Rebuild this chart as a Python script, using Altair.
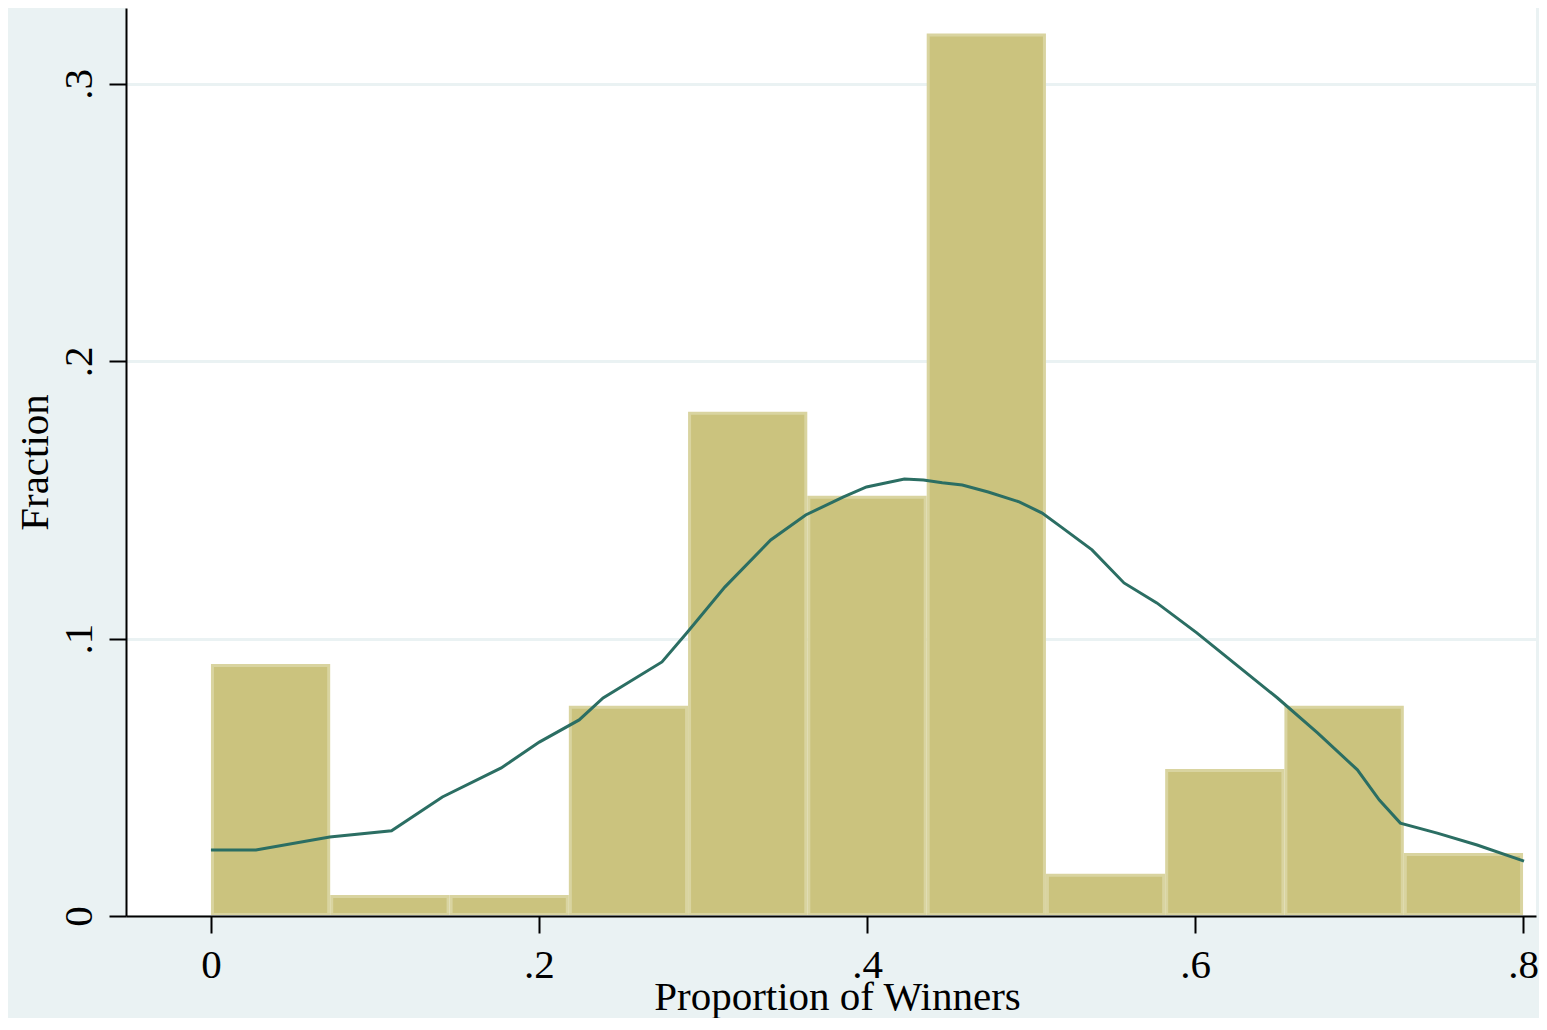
import altair as alt
import pandas as pd

# Histogram bins (Proportion of Winners) and fractions
bin_start = [0.0, 0.0727, 0.1455, 0.2182, 0.2909, 0.3636, 0.4364, 0.5091, 0.5818, 0.6545, 0.7273]
bin_end = [0.0727, 0.1455, 0.2182, 0.2909, 0.3636, 0.4364, 0.5091, 0.5818, 0.6545, 0.7273, 0.8]
fraction = [0.0909, 0.0076, 0.0076, 0.0758, 0.1818, 0.1515, 0.3182, 0.0152, 0.0530, 0.0758, 0.0227]

# Kernel density curve (scaled to fraction units)
kd_x = [0.000, 0.0274, 0.0724, 0.1101, 0.1411, 0.1770, 0.2002, 0.2245, 0.2391, 0.2750,
        0.2902, 0.3133, 0.3413, 0.3626, 0.3857, 0.3997, 0.4228, 0.4344, 0.4459, 0.4581,
        0.4739, 0.4928, 0.5068, 0.5183, 0.5372, 0.5567, 0.5767, 0.6011, 0.6260, 0.6503,
        0.6747, 0.6990, 0.7124, 0.7252, 0.7477, 0.7720, 0.8006]
kd_y = [0.0238, 0.0238, 0.0285, 0.0307, 0.0429, 0.0534, 0.0627, 0.0707, 0.0786, 0.0916,
        0.1021, 0.1186, 0.1356, 0.1446, 0.1511, 0.1547, 0.1576, 0.1572, 0.1562, 0.1554,
        0.1529, 0.1493, 0.1453, 0.1403, 0.1320, 0.1201, 0.1129, 0.1021, 0.0902, 0.0786,
        0.0660, 0.0527, 0.0418, 0.0335, 0.0299, 0.0256, 0.0198]

x_ticks = [0, 0.2, 0.4, 0.6, 0.8]
y_ticks = [0, 0.1, 0.2, 0.3]

bars = pd.DataFrame({"start": bin_start, "end": bin_end, "frac": fraction})
kd = pd.DataFrame({"x": kd_x, "y": kd_y})

FONT = "Liberation Serif"
W, H = 1410, 908

xscale = alt.Scale(domain=[-0.0518, 0.8079], nice=False, zero=False)
yscale = alt.Scale(domain=[0, 0.3274], nice=False, zero=False)

xaxis = alt.Axis(
    values=x_ticks, labelExpr="datum.value == 0 ? '0' : '.' + round(datum.value * 10)",
    grid=False, title="Proportion of Winners",
    labelFont=FONT, labelFontSize=41, labelColor="black", labelAngle=0,
    labelAlign="center", labelBaseline="alphabetic", labelPadding=44,
    labelFlush=False, labelOverlap=False,
    tickSize=17, tickWidth=2, tickColor="black",
    domainColor="black", domainWidth=2,
    titleFont=FONT, titleFontSize=41, titleFontWeight="normal", titleColor="black",
    titleAlign="center", titleBaseline="alphabetic", titleX=711, titleY=93, titleAngle=0,
)
yaxis = alt.Axis(
    values=y_ticks, labelExpr="datum.value == 0 ? '0' : '.' + round(datum.value * 10)",
    grid=True, gridColor="#EAF2F3", gridWidth=3, title="Fraction",
    labelFont=FONT, labelFontSize=41, labelColor="black", labelAngle=270,
    labelAlign="center", labelBaseline="alphabetic", labelPadding=18,
    labelFlush=False, labelOverlap=False,
    tickSize=17, tickWidth=2, tickColor="black",
    domainColor="black", domainWidth=2,
    titleFont=FONT, titleFontSize=41, titleFontWeight="normal", titleColor="black",
    titleAlign="center", titleBaseline="alphabetic", titleX=-79, titleY=454, titleAngle=270,
)

outer = alt.Chart(bars).mark_rect(color="#D9D4A0", y2Offset=-1).encode(
    x=alt.X("start:Q", scale=xscale, axis=xaxis),
    x2="end:Q",
    y=alt.Y("frac:Q", scale=yscale, axis=yaxis),
    y2=alt.datum(0),
)
inner = alt.Chart(bars).mark_rect(
    color="#CBC37E", xOffset=3, x2Offset=-3, yOffset=3, y2Offset=-3
).encode(
    x=alt.X("start:Q", scale=xscale),
    x2="end:Q",
    y=alt.Y("frac:Q", scale=yscale),
    y2=alt.datum(0),
)
line = alt.Chart(kd).mark_line(color="#2B6E63", strokeWidth=3).encode(
    x=alt.X("x:Q", scale=xscale),
    y=alt.Y("y:Q", scale=yscale),
)

chart = alt.layer(outer, inner, line).properties(
    width=W, height=H,
    autosize=alt.AutoSizeParams(type="none"),
    padding={"left": 118, "top": 0, "right": 3, "bottom": 102},
    background="#EAF2F3",
).configure_view(fill="white", strokeWidth=0)

chart.save("out.html", embed_options={"renderer": "svg", "actions": False})
